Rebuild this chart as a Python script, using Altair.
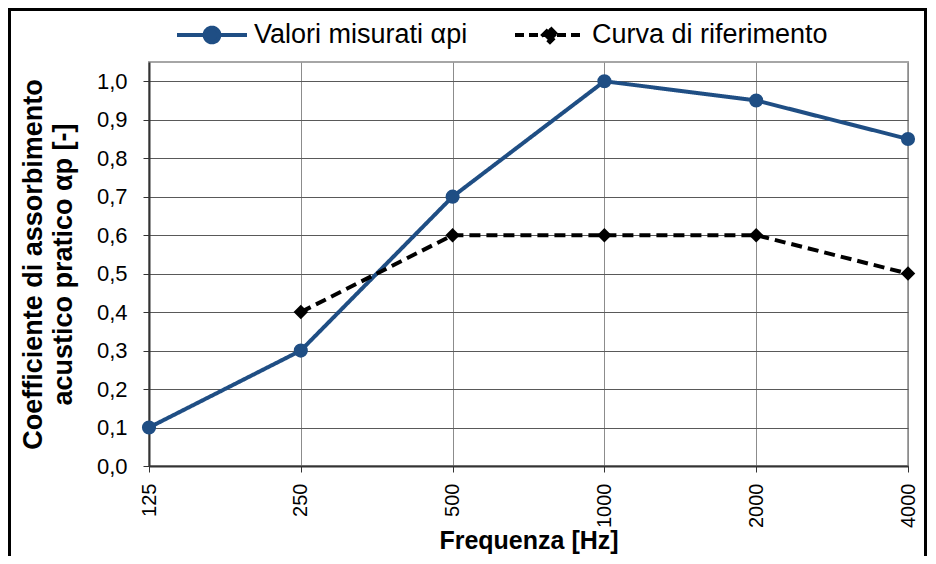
import altair as alt
import pandas as pd

# ---- data ----
freq = ["125", "250", "500", "1000", "2000", "4000"]
misurati = [0.1, 0.3, 0.7, 1.0, 0.95, 0.85]
rif_freq = ["250", "500", "1000", "2000", "4000"]
riferimento = [0.4, 0.6, 0.6, 0.6, 0.5]
s1 = "Valori misurati αpi"
s2 = "Curva di riferimento"
y_ticks = [0.0, 0.1, 0.2, 0.3, 0.4, 0.5, 0.6, 0.7, 0.8, 0.9, 1.0]

df1 = pd.DataFrame({"f": freq, "v": misurati, "s": [s1] * len(freq)})
df2 = pd.DataFrame({"f": rif_freq, "v": riferimento, "s": [s2] * len(rif_freq)})

FONT = "Liberation Sans"
BLUE = "#1F4E84"
W, H = 759, 404
PAD_L, PAD_T, PAD_R, PAD_B = 141, 54, 20, 90

x_enc = alt.X(
    "f:N",
    sort=freq,
    scale=alt.Scale(type="point", padding=0, domain=freq),
    axis=alt.Axis(
        title="Frequenza [Hz]",
        labelAngle=-90,
        labelPadding=11,
        labelFontSize=20,
        labelFont=FONT,
        labelColor="black",
        tickSize=6,
        tickColor="#333333",
        tickWidth=1,
        domainColor="#333333",
        domainWidth=2,
        grid=True,
        gridColor="#8c8c8c",
        gridWidth=1,
        titleFont=FONT,
        titleFontSize=25,
        titleFontWeight="bold",
        titleColor="black",
        titleBaseline="alphabetic",
        titleX=W / 2,
        titleY=82,
    ),
)

y_enc = alt.Y(
    "v:Q",
    scale=alt.Scale(domain=[0, 1.05], nice=False, zero=True),
    axis=alt.Axis(
        values=y_ticks,
        labelExpr="replace(format(datum.value, '.1f'), '.', ',')",
        labelPadding=16,
        labelFontSize=22,
        labelFont=FONT,
        labelColor="black",
        tickSize=6,
        tickColor="#333333",
        tickWidth=1,
        domainColor="#333333",
        domainWidth=2,
        grid=True,
        gridColor="#595959",
        gridWidth=1,
        title=["Coefficiente di assorbimento", "acustico pratico αp [-]"],
        titleFont=FONT,
        titleFontSize=27,
        titleFontWeight="bold",
        titleColor="black",
        titleLineHeight=30,
        titleAngle=-90,
        titleAlign="center",
        titleBaseline="bottom",
        titleX=-102,
        titleY=H / 2,
    ),
)


def legend(x, path, color, dash):
    return alt.Legend(
        title=None,
        orient="none",
        legendX=x,
        legendY=-64,
        padding=0,
        labelOffset=5,
        labelFont=FONT,
        labelFontSize=27,
        labelColor="black",
        labelLimit=0,
        symbolType=path,
        symbolSize=4900,
        symbolStrokeWidth=4,
        symbolFillColor=color,
        symbolStrokeColor=color,
        symbolOpacity=1,
        symbolDash=dash,
    )


circle_path = "M-1,0L1,0M-0.21,0A0.21,0.21,0,1,1,0.21,0A0.21,0.21,0,1,1,-0.21,0Z"
diamond_path = "M-1,0L1,0M0,-0.2L0.2,0L0,0.2L-0.2,0Z"


def series(data, name, color, dash, shape, size, lx, path, ldash):
    c = alt.Color(
        "s:N",
        scale=alt.Scale(domain=[name], range=[color]),
        legend=legend(lx, path, color, ldash),
    )
    base = alt.Chart(data)
    line = base.mark_line(strokeWidth=4, strokeCap="butt", strokeDash=dash).encode(
        x=x_enc, y=y_enc, color=c
    )
    pts = base.mark_point(filled=True, opacity=1, shape=shape, size=size).encode(
        x=x_enc, y=y_enc, color=c
    )
    return alt.layer(line, pts)


layer1 = series(df1, s1, BLUE, [1, 0], "circle", 200, 26, circle_path, [1, 0])
layer2 = series(df2, s2, "#000000", [11, 6], "diamond", 210, 364, diamond_path, [9, 5])

# outer black frame of the picture (decoration)
frame_df = pd.DataFrame({"k": [0]})
RIGHT_X = W + PAD_R - 2.5
frame_left = alt.Chart(frame_df).mark_rule(color="black", strokeWidth=3).encode(
    x=alt.value(-PAD_L + 1.5), y=alt.value(-PAD_T + 1.5), y2=alt.value(H + PAD_B)
)
frame_right = alt.Chart(frame_df).mark_rule(color="black", strokeWidth=3).encode(
    x=alt.value(RIGHT_X), y=alt.value(-PAD_T + 1.5), y2=alt.value(H + PAD_B)
)
frame_top = alt.Chart(frame_df).mark_rule(color="black", strokeWidth=3).encode(
    x=alt.value(-PAD_L), x2=alt.value(RIGHT_X + 1.5), y=alt.value(-PAD_T + 1.5)
)

chart = (
    alt.layer(layer1, layer2, frame_left, frame_right, frame_top)
    .resolve_scale(color="independent")
    .properties(
        width=W,
        height=H,
        autosize=alt.AutoSizeParams(type="none"),
        padding={"left": PAD_L, "top": PAD_T, "right": PAD_R, "bottom": PAD_B},
        background="white",
    )
    .configure_view(stroke="#a6a6a6", strokeWidth=2)
)

chart.save("out.html", embed_options={"renderer": "svg", "actions": False})
